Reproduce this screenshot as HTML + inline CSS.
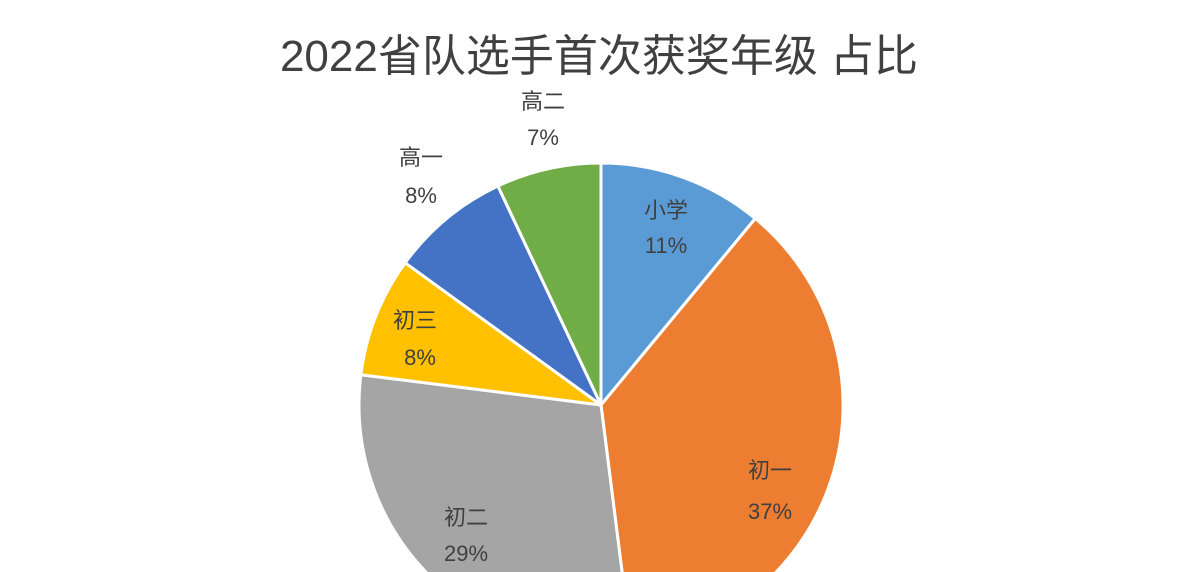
<!DOCTYPE html>
<html><head><meta charset="utf-8"><style>
html,body{margin:0;padding:0;background:#fff;width:1204px;height:572px;overflow:hidden;}
svg{display:block;}
text{font-family:"Liberation Sans","Noto Sans CJK SC",sans-serif;fill:#404040;}
</style></head><body>
<svg width="1204" height="572" viewBox="0 0 1204 572">
<rect width="1204" height="572" fill="#fff"/>
<text x="599" y="71" font-size="44" text-anchor="middle">2022省队选手首次获奖年级 占比</text>
<g stroke="#fff" stroke-width="3" stroke-linejoin="round">
<path d="M601,405 L601,163 A242,242 0 0 1 755.3,218.5 Z" fill="#5B9BD5"/>
<path d="M601,405 L755.3,218.5 A242,242 0 0 1 631.3,645.1 Z" fill="#ED7D31"/>
<path d="M601,405 L631.3,645.1 A242,242 0 0 1 360.9,374.7 Z" fill="#A5A5A5"/>
<path d="M601,405 L360.9,374.7 A242,242 0 0 1 405.2,262.8 Z" fill="#FFC000"/>
<path d="M601,405 L405.2,262.8 A242,242 0 0 1 497.9,186.0 Z" fill="#4472C4"/>
<path d="M601,405 L497.9,186.0 A242,242 0 0 1 601,163 Z" fill="#70AD47"/>
</g>
<g font-size="22" text-anchor="middle">
<text x="666" y="218">小学</text><text x="666" y="253">11%</text>
<text x="770" y="478">初一</text><text x="770" y="519">37%</text>
<text x="466" y="525">初二</text><text x="466" y="561">29%</text>
<text x="415" y="328">初三</text><text x="420" y="365">8%</text>
<text x="421" y="165">高一</text><text x="421" y="203">8%</text>
<text x="543" y="109">高二</text><text x="543" y="145">7%</text>
</g>
</svg>
</body></html>
